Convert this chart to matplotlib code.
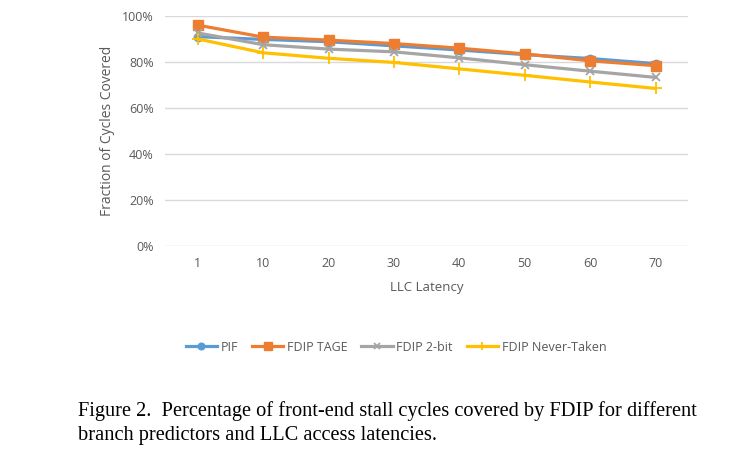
import matplotlib as mpl
import matplotlib.pyplot as plt

mpl.rcParams['font.family'] = ['Open Sans', 'DejaVu Sans']

latency = ['1', '10', '20', '30', '40', '50', '60', '70']
pif = [91.0, 89.8, 88.8, 87.0, 85.2, 83.2, 81.5, 79.3]
fdip_tage = [96.0, 90.8, 89.5, 88.0, 86.0, 83.5, 80.5, 78.4]
fdip_2bit = [92.6, 87.5, 85.6, 84.4, 81.8, 78.8, 76.0, 73.3]
fdip_nt = [90.0, 84.0, 81.6, 79.8, 77.0, 74.2, 71.3, 68.5]

fig = plt.figure(figsize=(7.4, 4.55), dpi=100)
ax = fig.add_axes([0.223, 0.459, 0.707, 0.506])

x = range(len(latency))
ax.plot(x, pif, color='#5B9BD5', lw=2.3, marker='o', ms=6, label='PIF')
ax.plot(x, fdip_tage, color='#ED7D31', lw=2.3, marker='s', ms=6.5, label='FDIP TAGE')
ax.plot(x, fdip_2bit, color='#A5A5A5', lw=2.3, marker='x', ms=6, mew=1.3, label='FDIP 2-bit')
ax.plot(x, fdip_nt, color='#FFC000', lw=2.3, marker='+', ms=8, mew=1.3, label='FDIP Never-Taken')

ax.set_ylim(0, 100)
ax.set_xlim(-0.5, len(latency) - 0.5)
ax.set_yticks(range(0, 101, 20))
ax.set_yticklabels([f'{v}%' for v in range(0, 101, 20)])
ax.set_xticks(list(x))
ax.set_xticklabels(latency)
ax.grid(axis='y', color='#D9D9D9', lw=1)
ax.set_axisbelow(True)
for s in ax.spines.values():
    s.set_visible(False)
ax.tick_params(length=0, labelsize=9, colors='#595959', pad=8)
ax.set_xlabel('LLC Latency', fontsize=9.5, color='#595959', labelpad=8)
ax.set_ylabel('Fraction of Cycles Covered', fontsize=10, color='#595959', labelpad=5)

fig.legend(loc='center', bbox_to_anchor=(0.535, 0.237), ncol=4, frameon=False,
           fontsize=9, labelcolor='#595959', handlelength=2.5, handletextpad=0.3,
           columnspacing=1.1, markerscale=0.8)

fig.text(0.105, 0.097, 'Figure 2.  Percentage of front-end stall cycles covered by FDIP for different',
         family='Liberation Serif', fontsize=14.7, va='center')
fig.text(0.105, 0.042, 'branch predictors and LLC access latencies.',
         family='Liberation Serif', fontsize=14.7, va='center')

fig.savefig('out.png', dpi=100)
